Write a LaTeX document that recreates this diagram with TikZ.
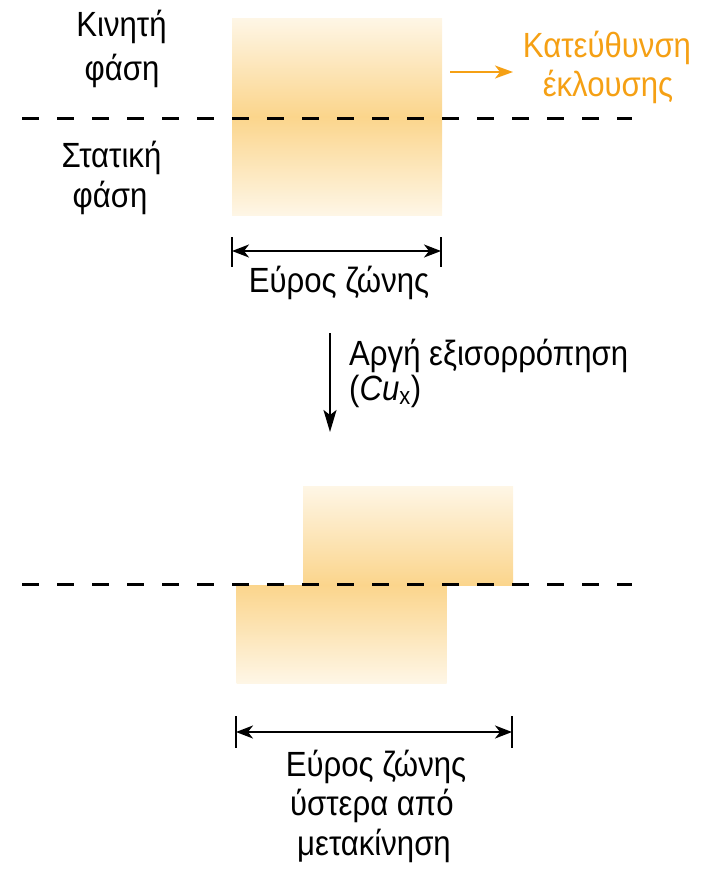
\documentclass[tikz,border=0pt]{standalone}
\usepackage{fontspec}
\setmainfont{Liberation Sans}[FakeStretch=0.89]
\usetikzlibrary{arrows.meta}
\definecolor{bandlight}{RGB}{254,246,230}
\definecolor{banddark}{RGB}{251,213,140}
\definecolor{eluent}{RGB}{245,160,20}
\tikzset{
  band/.style={shade, inner sep=0pt, minimum width=210pt},
  phaseline/.style={black, line width=3pt, dash pattern=on 17pt off 18pt},
  widtharrow/.style={black, line width=2pt, {Stealth[length=17pt,width=13pt,inset=5pt]}-{Stealth[length=17pt,width=13pt,inset=5pt]}},
  widthtick/.style={black, line width=2pt},
  note/.style={font=\fontsize{35}{40}\selectfont, anchor=base, inner sep=0pt},
}
\begin{document}
\begin{tikzpicture}[x=1pt,y=1pt]
    \useasboundingbox (0,0) rectangle (706,-873);
    % before the slow equilibration
    \node (bandA) [band, minimum height=197pt, top color=bandlight, bottom color=bandlight, middle color=banddark] at (337,-116.5) {};
    \coordinate (mobA) at (22,-118);
    \coordinate (mobB) at (632,-118);
    \draw [phaseline] (mobA) -- (mobB);
    \node (mobile) [note] at (121.5,-36) {Κινητή};
    \node (mobileB) [note] at (122,-80) {φάση};
    \node (stat) [note] at (111.5,-167) {Στατική};
    \node (statB) [note] at (110,-207) {φάση};
    \node (elution) [note, text=eluent] at (607,-57) {Κατεύθυνση};
    \node (elutionB) [note, text=eluent] at (608,-96) {έκλουσης};
    \coordinate (eluA) at (450,-72);
    \coordinate (eluB) at (513,-72);
    \draw [eluent, line width=2pt, -{Stealth[length=18pt,width=13pt,inset=5pt]}] (eluA) -- (eluB);
    % width of the band
    \coordinate (wA) at (232,-251);
    \coordinate (wB) at (441,-251);
    \draw [widtharrow] (wA) -- (wB);
    \draw [widthtick] ([yshift=14pt]wA) -- ([yshift=-16pt]wA);
    \draw [widthtick] ([yshift=14pt]wB) -- ([yshift=-16pt]wB);
    \node (widthA) [note] at (339,-292) {Εύρος ζώνης};
    % slow equilibration
    \coordinate (eqA) at (330,-333);
    \coordinate (eqB) at (330,-432);
    \draw [black, line width=2pt, -{Stealth[length=22pt,width=13pt,inset=5pt]}] (eqA) -- (eqB);
    \node (slow) [note, anchor=base west] at (349,-365) {Αργή εξισορρόπηση};
    \node (slowB) [note, anchor=base west] at (349,-400) {(\textit{Cu}\textsubscript{x})};
    % after the slow equilibration
    \node (bandB) [band, minimum height=99pt, top color=bandlight, bottom color=banddark] at (408,-535.5) {};
    \node (bandC) [band, minimum height=98pt, top color=banddark, bottom color=bandlight] at (341.5,-634) {};
    \coordinate (mobC) at (22,-584);
    \coordinate (mobD) at (632,-584);
    \draw [phaseline] (mobC) -- (mobD);
    \coordinate (wC) at (236,-732);
    \coordinate (wD) at (512,-732);
    \draw [widtharrow] (wC) -- (wD);
    \draw [widthtick] ([yshift=16pt]wC) -- ([yshift=-16pt]wC);
    \draw [widthtick] ([yshift=16pt]wD) -- ([yshift=-16pt]wD);
    \node (widthB) [note] at (376,-776) {Εύρος ζώνης};
    \node (widthC) [note] at (372,-815) {ύστερα από};
    \node (widthD) [note] at (374,-855) {μετακίνηση};
\end{tikzpicture}
\end{document}
